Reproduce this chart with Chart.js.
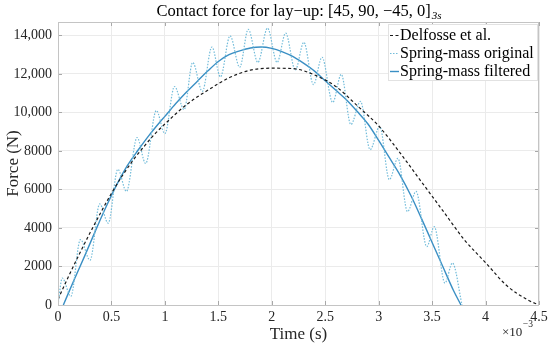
<!DOCTYPE html>
<html>
<head>
<meta charset="utf-8">
<script src="https://cdn.jsdelivr.net/npm/chart.js@4"></script>
<style>
html, body { margin: 0; padding: 0; background: #fff; }
</style>
</head>
<body>
<canvas id="myChart" width="550" height="346"></canvas>
<script>
// Data (time in seconds, force in N)
let delfosseTime = [0, 0.0001, 0.0002, 0.0003, 0.0004, 0.0005, 0.0006, 0.0007, 0.0008, 0.0009, 0.0010,
    0.0012, 0.0014, 0.0016, 0.0018, 0.0020, 0.0022, 0.0024, 0.0026, 0.0028, 0.0030,
    0.0032, 0.0034, 0.0036, 0.0038, 0.0040, 0.0042, 0.0044, 0.0045];
let delfosseForce = [300, 1500, 2650, 3750, 4800, 5800, 6700, 7500, 8200, 8850, 9400,
    10400, 11150, 11800, 12200, 12300, 12280, 11950, 11350, 10350, 9300,
    7900, 6400, 4900, 3400, 2200, 1000, 250, 0];

let originalTime = [0, 0.00004, 0.00012, 0.00021, 0.00030, 0.00039, 0.00047, 0.00056, 0.00064, 0.00074, 0.00082,
    0.00092, 0.00100, 0.00109, 0.00118, 0.00126, 0.00135, 0.00144, 0.00152, 0.00161, 0.00170,
    0.00178, 0.00187, 0.00196, 0.00205, 0.00213, 0.00222, 0.00230, 0.00239, 0.00247, 0.00257,
    0.00265, 0.00274, 0.00283, 0.00292, 0.00301, 0.00310, 0.00318, 0.00327, 0.00335, 0.00345,
    0.00352, 0.00362, 0.00369, 0.00378];
let originalForce = [0, 1400, 450, 3400, 2330, 5250, 4250, 7050, 5900, 8700, 7350,
    10100, 8900, 11350, 10150, 12600, 11100, 13400, 11850, 13980, 12350,
    14320, 12600, 14380, 12600, 14120, 12200, 13650, 11450, 12870, 10520,
    11980, 9375, 10580, 8070, 9280, 6510, 7620, 4850, 5900, 3030,
    4070, 1140, 2180, 0];

let filteredTime = [0.00005, 0.00015, 0.00025, 0.00035, 0.00045, 0.00055, 0.00065, 0.00075, 0.00085, 0.00095,
    0.0010, 0.0011, 0.0012, 0.0013, 0.0014, 0.0015, 0.0016, 0.0017, 0.0018, 0.0019, 0.0020,
    0.0021, 0.0022, 0.0023, 0.0024, 0.0025, 0.0026, 0.0027, 0.0028, 0.0029, 0.0030,
    0.0031, 0.0032, 0.0033, 0.0034, 0.0035, 0.0036, 0.0037, 0.00377];
let filteredForce = [0, 1300, 2550, 3850, 5100, 6250, 7250, 8050, 8800, 9480,
    9800, 10450, 11050, 11600, 12150, 12650, 13000, 13200, 13350, 13400, 13330,
    13150, 12900, 12550, 12150, 11650, 11150, 10650, 10050, 9400, 8550,
    7650, 6750, 5700, 4500, 3250, 2000, 750, 0];

let seriesLabels = ["Delfosse et al.", "Spring-mass original", "Spring-mass filtered"];
let xTicks = [0, 0.0005, 0.001, 0.0015, 0.002, 0.0025, 0.003, 0.0035, 0.004, 0.0045];
let xTickLabels = ["0", "0.5", "1", "1.5", "2", "2.5", "3", "3.5", "4", "4.5"];
let yTicks = [0, 2000, 4000, 6000, 8000, 10000, 12000, 14000];
let yTickLabels = ["0", "2000", "4000", "6000", "8000", "10,000", "12,000", "14,000"];
let xMax = 0.0045;
let yMax = 14700;

const serif = '"Liberation Serif", "DejaVu Serif", serif';
const ink = '#262626';

function pts(xs, ys) {
    return xs.map(function(x, i) { return { x: x, y: ys[i] }; });
}

// box, inward ticks, title, legend and exponent drawn on the canvas
const decorations = {
    id: 'decorations',
    afterDraw: function(chart) {
        const c = chart.ctx;
        const a = chart.chartArea;
        const xs = chart.scales.x;
        const ys = chart.scales.y;
        c.save();

        // inward tick marks
        c.strokeStyle = '#a8a8a8';
        c.lineWidth = 1;
        c.beginPath();
        xs.ticks.forEach(function(t) {
            const px = Math.round(xs.getPixelForValue(t.value)) + 0.5;
            c.moveTo(px, a.bottom); c.lineTo(px, a.bottom - 4);
            c.moveTo(px, a.top); c.lineTo(px, a.top + 4);
        });
        ys.ticks.forEach(function(t) {
            const py = Math.round(ys.getPixelForValue(t.value)) + 0.5;
            c.moveTo(a.left, py); c.lineTo(a.left + 4, py);
            c.moveTo(a.right, py); c.lineTo(a.right - 4, py);
        });
        c.stroke();

        // axes box
        c.strokeStyle = '#c4c4c4';
        c.strokeRect(Math.round(a.left) + 0.5, Math.round(a.top) + 0.5,
            Math.round(a.right - a.left) - 1, Math.round(a.bottom - a.top));

        // title with subscript
        c.fillStyle = '#000';
        c.textBaseline = 'alphabetic';
        const main = 'Contact force for lay\u2212up: [45, 90, \u221245, 0]';
        c.font = '16.5px ' + serif;
        const w1 = c.measureText(main).width;
        c.font = 'italic 11px ' + serif;
        const w2 = c.measureText('3s').width;
        let tx = (a.left + a.right) / 2 - (w1 + w2) / 2;
        c.font = '16.5px ' + serif;
        c.fillText(main, tx, 16);
        c.font = 'italic 11px ' + serif;
        c.fillText('3s', tx + w1 + 1, 19);

        // legend
        const lx = 388, ly = 24, lw = 149, lh = 56;
        c.fillStyle = '#fff';
        c.fillRect(lx, ly, lw, lh);
        c.strokeStyle = '#e2e2e2';
        c.strokeRect(lx + 0.5, ly + 0.5, lw, lh);
        chart.data.datasets.forEach(function(ds, i) {
            const y = ly + 11 + i * 18;
            c.strokeStyle = ds.borderColor;
            c.lineWidth = ds.borderWidth;
            c.setLineDash(ds.borderDash || []);
            c.beginPath();
            c.moveTo(lx + 2, y + 0.5);
            c.lineTo(lx + 11, y + 0.5);
            c.stroke();
            c.setLineDash([]);
            c.fillStyle = '#000';
            c.font = '16px ' + serif;
            c.textBaseline = 'middle';
            c.fillText(ds.label, lx + 12, y + 1);
        });

        // x exponent
        c.fillStyle = ink;
        c.textBaseline = 'alphabetic';
        c.font = '13px ' + serif;
        c.fillText('\u00d710', 502, 336);
        const ew = c.measureText('\u00d710').width;
        c.font = '9.5px ' + serif;
        c.fillText('\u22123', 502 + ew + 0.5, 327);

        c.restore();
    }
};

document.addEventListener("DOMContentLoaded", function() {
    let ctx = document.getElementById('myChart').getContext('2d');
    let myChart = new Chart(ctx, {
        type: 'line',
        data: {
            datasets: [{
                label: seriesLabels[0],
                data: pts(delfosseTime, delfosseForce),
                borderColor: '#1a1a1a',
                borderWidth: 1.2,
                borderDash: [3, 2.5],
                cubicInterpolationMode: 'monotone',
                pointRadius: 0
            }, {
                label: seriesLabels[1],
                data: pts(originalTime, originalForce),
                borderColor: '#72bcda',
                borderWidth: 1.2,
                borderDash: [1.5, 1.5],
                cubicInterpolationMode: 'monotone',
                pointRadius: 0
            }, {
                label: seriesLabels[2],
                data: pts(filteredTime, filteredForce),
                borderColor: '#3a8fc4',
                borderWidth: 1.4,
                cubicInterpolationMode: 'monotone',
                pointRadius: 0
            }]
        },
        options: {
            responsive: false,
            animation: false,
            devicePixelRatio: 1,
            layout: { padding: { top: 22, right: 11, left: 0, bottom: 0 } },
            plugins: {
                legend: { display: false },
                title: { display: false },
                tooltip: { enabled: false }
            },
            scales: {
                x: {
                    type: 'linear',
                    min: 0,
                    max: xMax,
                    afterFit: function(s) {
                        s.height = 41;
                        s.paddingLeft = 0;
                        s.paddingRight = 0;
                    },
                    afterBuildTicks: function(s) {
                        s.ticks = xTicks.map(function(v) { return { value: v }; });
                    },
                    ticks: {
                        autoSkip: false,
                        maxRotation: 0,
                        padding: 4,
                        color: ink,
                        font: { family: serif, size: 14 },
                        callback: function(v, i) { return xTickLabels[i]; }
                    },
                    grid: { color: '#ebebeb', drawTicks: false },
                    border: { display: false },
                    title: {
                        display: true,
                        text: 'Time (s)',
                        color: ink,
                        font: { family: serif, size: 17 },
                        padding: { top: 0, bottom: 1 }
                    }
                },
                y: {
                    min: 0,
                    max: yMax,
                    afterFit: function(s) {
                        s.width = 58;
                        s.paddingTop = 0;
                        s.paddingBottom = 0;
                    },
                    afterBuildTicks: function(s) {
                        s.ticks = yTicks.map(function(v) { return { value: v }; });
                    },
                    ticks: {
                        autoSkip: false,
                        padding: 6,
                        color: ink,
                        font: { family: serif, size: 14 },
                        callback: function(v, i) { return yTickLabels[i]; }
                    },
                    grid: { color: '#ebebeb', drawTicks: false },
                    border: { display: false },
                    title: {
                        display: true,
                        text: 'Force (N)',
                        color: ink,
                        font: { family: serif, size: 17 },
                        padding: { top: 3, bottom: 0 }
                    }
                }
            }
        },
        plugins: [decorations]
    });
});
</script>
</body>
</html>
